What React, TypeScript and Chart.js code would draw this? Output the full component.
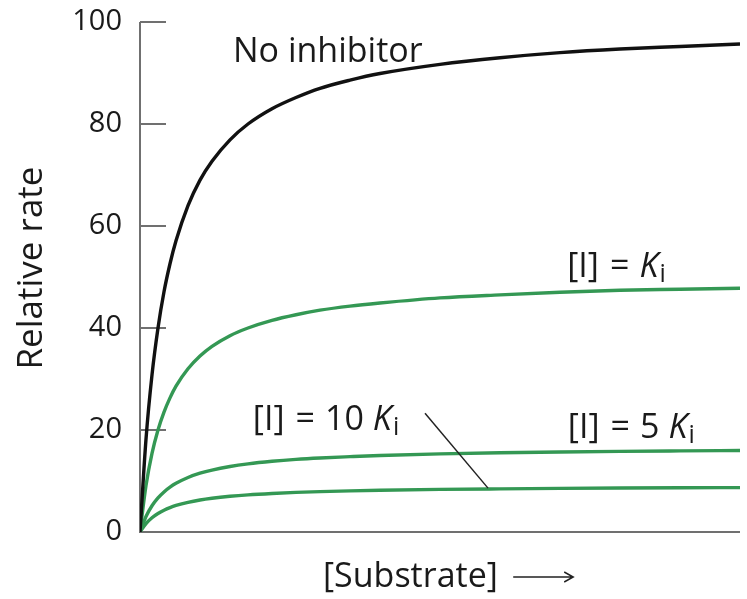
import React, { useEffect, useRef } from "react";
import { Chart, registerables } from "chart.js";

Chart.register(...registerables);

// [Substrate] (arbitrary units, 0–100 across the axis)
const substrate = [0, 1, 2, 3, 4, 5, 6, 8, 10, 12, 15, 18, 22, 26, 30, 35, 40, 50, 60, 70, 80, 90, 100];
// Relative rate
const noInhibitor = [0, 18.2, 30.8, 40, 47.1, 52.6, 57.1, 64, 69, 72.7, 76.9, 80, 83, 85.2, 87, 88.6, 89.9, 91.7, 93, 94, 94.7, 95.2, 95.7];
const iEqKi = [0, 9.1, 15.4, 20, 23.5, 26.3, 28.6, 32, 34.5, 36.4, 38.5, 40, 41.5, 42.6, 43.5, 44.3, 44.9, 45.9, 46.5, 47, 47.4, 47.6, 47.8];
const iEq5Ki = [0, 3.04, 5.14, 6.68, 7.86, 8.79, 9.54, 10.69, 11.52, 12.15, 12.85, 13.36, 13.86, 14.24, 14.52, 14.78, 15.01, 15.32, 15.53, 15.69, 15.81, 15.9, 15.98];
const iEq10Ki = [0, 1.65, 2.8, 3.64, 4.28, 4.79, 5.2, 5.82, 6.28, 6.62, 7.0, 7.28, 7.55, 7.76, 7.91, 8.06, 8.18, 8.35, 8.46, 8.55, 8.62, 8.67, 8.71];
const yTicks = [0, 20, 40, 60, 80, 100];

const FONT = "'Open Sans', sans-serif";
const GREEN = "rgb(52,152,84)";

const toPts = (ys: number[]) => substrate.map((x, i) => ({ x, y: ys[i] }));

type Part = { t: string; size: number; italic?: boolean; dy?: number; gap?: number };

function drawRich(ctx: CanvasRenderingContext2D, parts: Part[], x: number, y: number) {
  let cx = x;
  for (const p of parts) {
    ctx.font = `${p.italic ? "italic " : ""}${p.size}px ${FONT}`;
    ctx.fillText(p.t, cx, y + (p.dy || 0));
    cx += ctx.measureText(p.t).width + (p.gap || 0);
  }
}

const annotPlugin = {
  id: "annot",
  beforeDatasetsDraw(chart: any) {
    const { ctx, chartArea, scales } = chart;
    const xs = scales.x;
    const ys = scales.y;
    ctx.save();
    ctx.strokeStyle = "#707070";
    ctx.lineWidth = 2;
    ctx.beginPath();
    ctx.moveTo(chartArea.left, ys.getPixelForValue(100));
    ctx.lineTo(chartArea.left, chartArea.bottom);
    ctx.lineTo(xs.getPixelForValue(100), chartArea.bottom);
    ctx.stroke();
    for (const v of yTicks) {
      if (v === 0) continue;
      const py = Math.round(ys.getPixelForValue(v));
      ctx.beginPath();
      ctx.moveTo(chartArea.left, py);
      ctx.lineTo(chartArea.left + 26, py);
      ctx.stroke();
    }
    ctx.restore();
  },
  afterDatasetsDraw(chart: any) {
    const { ctx, chartArea, scales } = chart;
    const xs = scales.x;
    const ys = scales.y;
    const X = (v: number) => xs.getPixelForValue(v);
    const Y = (v: number) => ys.getPixelForValue(v);
    ctx.save();
    ctx.fillStyle = "#1a1a1a";
    ctx.textAlign = "left";
    ctx.textBaseline = "alphabetic";
    const S = 34;
    const SUB = 25;
    drawRich(ctx, [{ t: "No inhibitor", size: S }], X(15.5), Y(92.2));
    drawRich(ctx, [
      { t: "[I]", size: S, gap: 11 },
      { t: "=", size: S, gap: 10 },
      { t: "K", size: S, italic: true, gap: 1 },
      { t: "i", size: SUB, dy: 5 },
    ], X(71.2), Y(50));
    drawRich(ctx, [
      { t: "[I]", size: S, gap: 11 },
      { t: "=", size: S, gap: 10 },
      { t: "10", size: S, gap: 9 },
      { t: "K", size: S, italic: true, gap: 1 },
      { t: "i", size: SUB, dy: 5 },
    ], X(18.8), Y(20));
    drawRich(ctx, [
      { t: "[I]", size: S, gap: 11 },
      { t: "=", size: S, gap: 10 },
      { t: "5", size: S, gap: 9 },
      { t: "K", size: S, italic: true, gap: 1 },
      { t: "i", size: SUB, dy: 5 },
    ], X(71.3), Y(18.4));

    // leader line
    ctx.strokeStyle = "#222";
    ctx.lineWidth = 1.5;
    ctx.beginPath();
    ctx.moveTo(X(47.5), Y(23.3));
    ctx.lineTo(X(58), Y(8.6));
    ctx.stroke();

    // x title
    ctx.font = `${S}px ${FONT}`;
    ctx.fillText("[Substrate]", X(30.5), chartArea.bottom + 55);
    const ay = chartArea.bottom + 45;
    const ax0 = X(62.2);
    const ax1 = X(72.2);
    ctx.lineWidth = 1.5;
    ctx.beginPath();
    ctx.moveTo(ax0, ay);
    ctx.lineTo(ax1, ay);
    ctx.moveTo(ax1 - 9, ay - 5);
    ctx.lineTo(ax1, ay);
    ctx.lineTo(ax1 - 9, ay + 5);
    ctx.stroke();

    // y title
    ctx.save();
    ctx.translate(32, 268);
    ctx.rotate(-Math.PI / 2);
    ctx.textAlign = "center";
    ctx.textBaseline = "middle";
    ctx.font = `35px ${FONT}`;
    ctx.fillText("Relative rate", 0, 0);
    ctx.restore();
    ctx.restore();
  },
};

export default function App() {
  const ref = useRef<HTMLCanvasElement>(null);
  useEffect(() => {
    document.body.style.margin = "0";
    const line = (data: number[], color: string) => ({
      data: toPts(data),
      borderColor: color,
      borderWidth: 3.4,
      pointRadius: 0,
      fill: false,
      cubicInterpolationMode: "monotone" as const,
    });
    const chart = new Chart(ref.current!, {
      type: "line",
      data: {
        datasets: [
          line(noInhibitor, "#111"),
          line(iEqKi, GREEN),
          line(iEq5Ki, GREEN),
          line(iEq10Ki, GREEN),
        ],
      },
      options: {
        animation: false,
        responsive: false,
        layout: { padding: { left: 0, right: 7, top: 22, bottom: 0 } },
        plugins: { legend: { display: false }, tooltip: { enabled: false } },
        scales: {
          x: {
            type: "linear",
            min: 0,
            max: 100,
            grid: { display: false },
            border: { display: false },
            ticks: { display: false },
            afterFit: (s: any) => {
              s.height = 67;
              s.paddingLeft = 0;
              s.paddingRight = 0;
            },
          },
          y: {
            type: "linear",
            min: 0,
            max: 100,
            afterBuildTicks: (s: any) => {
              s.ticks = yTicks.map((v) => ({ value: v }));
            },
            grid: { display: false },
            border: { display: false },
            ticks: {
              padding: 10,
              color: "#1a1a1a",
              font: { family: "'Open Sans', sans-serif", size: 29 },
            },
            afterFit: (s: any) => {
              s.width = 140;
              s.paddingTop = 0;
              s.paddingBottom = 0;
            },
          },
        },
      },
      plugins: [annotPlugin],
    });
    return () => chart.destroy();
  }, []);
  return (
    <div style={{ width: 747, height: 599, background: "#fff" }}>
      <canvas ref={ref} width={747} height={599} />
    </div>
  );
}
